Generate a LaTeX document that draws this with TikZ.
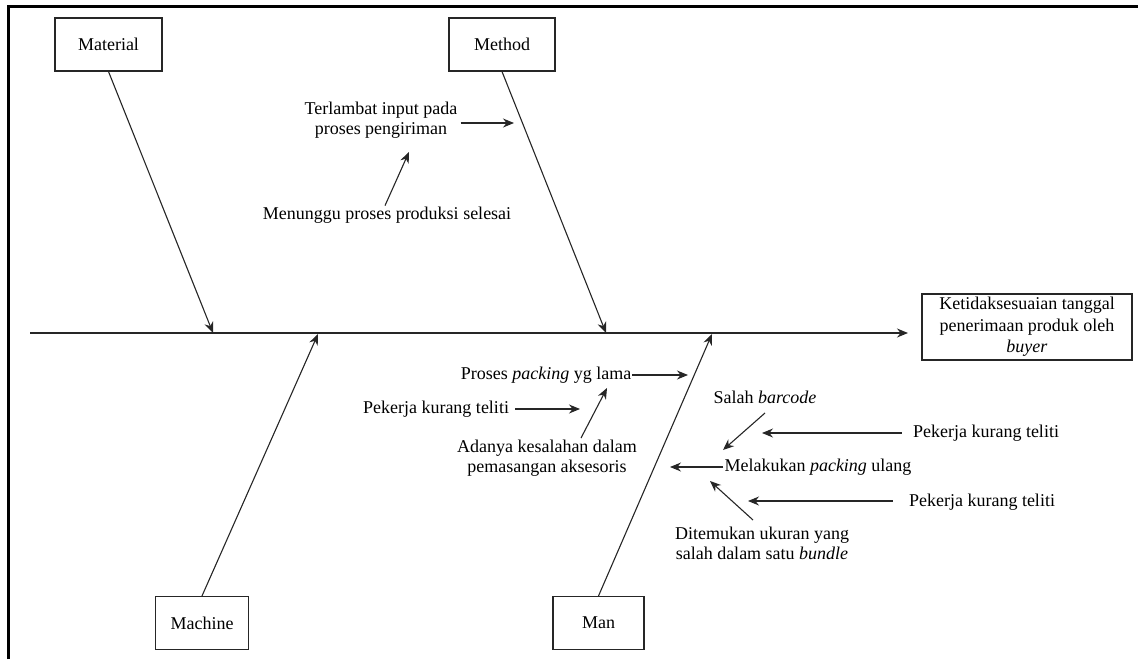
\documentclass[tikz,border=0pt]{standalone}
\usepackage{fontspec}
\setmainfont{Liberation Serif}
\usetikzlibrary{arrows.meta}

\begin{document}
\begin{tikzpicture}[x=1pt,y=-1pt,
  bone/.style={draw=black!80, line width=1.1pt},
  arr/.style={draw=black!85, line width=1.1pt, -{Stealth[length=11pt,width=9pt]}},
  catbox/.style={draw=black!85, line width=1.1pt, minimum height=53pt,
                 font=\fontsize{18}{21}\selectfont},
  lbl/.style={font=\fontsize{18}{20}\selectfont, align=center, inner sep=1pt},
]
\useasboundingbox (0,0) rectangle (1138,659);

% page frame (top and left edges)
\draw[line width=3pt] (8,659) -- (8,6) -- (1138,6);

% category boxes
\node[catbox, minimum width=107pt] (material) at (108.5,44.5) {Material};
\node[catbox, minimum width=106pt] (method)   at (502,44.5)   {Method};
\node[catbox, minimum width=93pt]  (machine)  at (202,623)    {Machine};
\node[catbox, minimum width=91pt]  (man)      at (598.5,623)  {Man};

% effect box
\node[draw=black!85, line width=1.1pt, minimum width=210pt, minimum height=66pt,
      align=center, font=\fontsize{18}{21.5}\selectfont] (effect) at (1027,327)
  {Ketidaksesuaian tanggal\\penerimaan produk oleh\\\textit{buyer}};

% spine and its joints
\coordinate (tail) at (30,333);
\coordinate (head) at (908,333);
\coordinate (jmat) at (213,333);
\coordinate (jmet) at (606,333);
\coordinate (jmac) at (318,334);
\coordinate (jman) at (712,334);

\draw[arr, line width=1.5pt] (tail) -- (head);

% main bones
\draw[arr] (material.south) -- (jmat);
\draw[arr] (method.south) -- (jmet);
\draw[arr] (machine.north) -- (jmac);
\draw[arr] (man.north) -- (jman);

% causes
\node[lbl] (late)    at (381,120) {Terlambat input pada\\proses pengiriman};
\node[lbl] (wait)    at (387,215) {Menunggu proses produksi selesai};
\node[lbl] (slow)    at (546,375) {Proses \textit{packing} yg lama};
\node[lbl] (care1)   at (436,409) {Pekerja kurang teliti};
\node[lbl] (acc)     at (547,458) {Adanya kesalahan dalam\\pemasangan aksesoris};
\node[lbl] (barcode) at (765,397) {Salah \textit{barcode}};
\node[lbl] (care2)   at (986,433) {Pekerja kurang teliti};
\node[lbl] (repack)  at (818,467) {Melakukan \textit{packing} ulang};
\node[lbl] (care3)   at (982,502) {Pekerja kurang teliti};
\node[lbl] (size)    at (762,543) {Ditemukan ukuran yang\\salah dalam satu \textit{bundle}};

% arrow ends
\coordinate (lateTip)    at (514,123);
\coordinate (waitTip)    at (409,152);
\coordinate (slowTip)    at (688,375);
\coordinate (care1Tip)   at (580,409);
\coordinate (accTail)    at (581,438);
\coordinate (accTip)     at (607,388);
\coordinate (barTail)    at (765,413);
\coordinate (barTip)     at (723,450);
\coordinate (care2Tip)   at (762,433);
\coordinate (repackTip)  at (670,467);
\coordinate (care3Tip)   at (748,501);
\coordinate (sizeTail)   at (753,520);
\coordinate (sizeTip)    at (710,481);

% sub-cause arrows
\draw[arr] ([xshift=2pt]late.east |- lateTip) -- (lateTip);
\draw[arr] ([xshift=-2pt]wait.north) -- (waitTip);
\draw[arr] (slow.east) -- (slowTip);
\draw[arr] ([xshift=5pt]care1.east) -- (care1Tip);
\draw[arr] (accTail) -- (accTip);
\draw[arr] (barTail) -- (barTip);
\draw[arr] ([xshift=-10pt]care2.west) -- (care2Tip);
\draw[arr] (repack.west) -- (repackTip);
\draw[arr] ([xshift=-15pt]care3.west |- care3Tip) -- (care3Tip);
\draw[arr] (sizeTail) -- (sizeTip);

\end{tikzpicture}
\end{document}
